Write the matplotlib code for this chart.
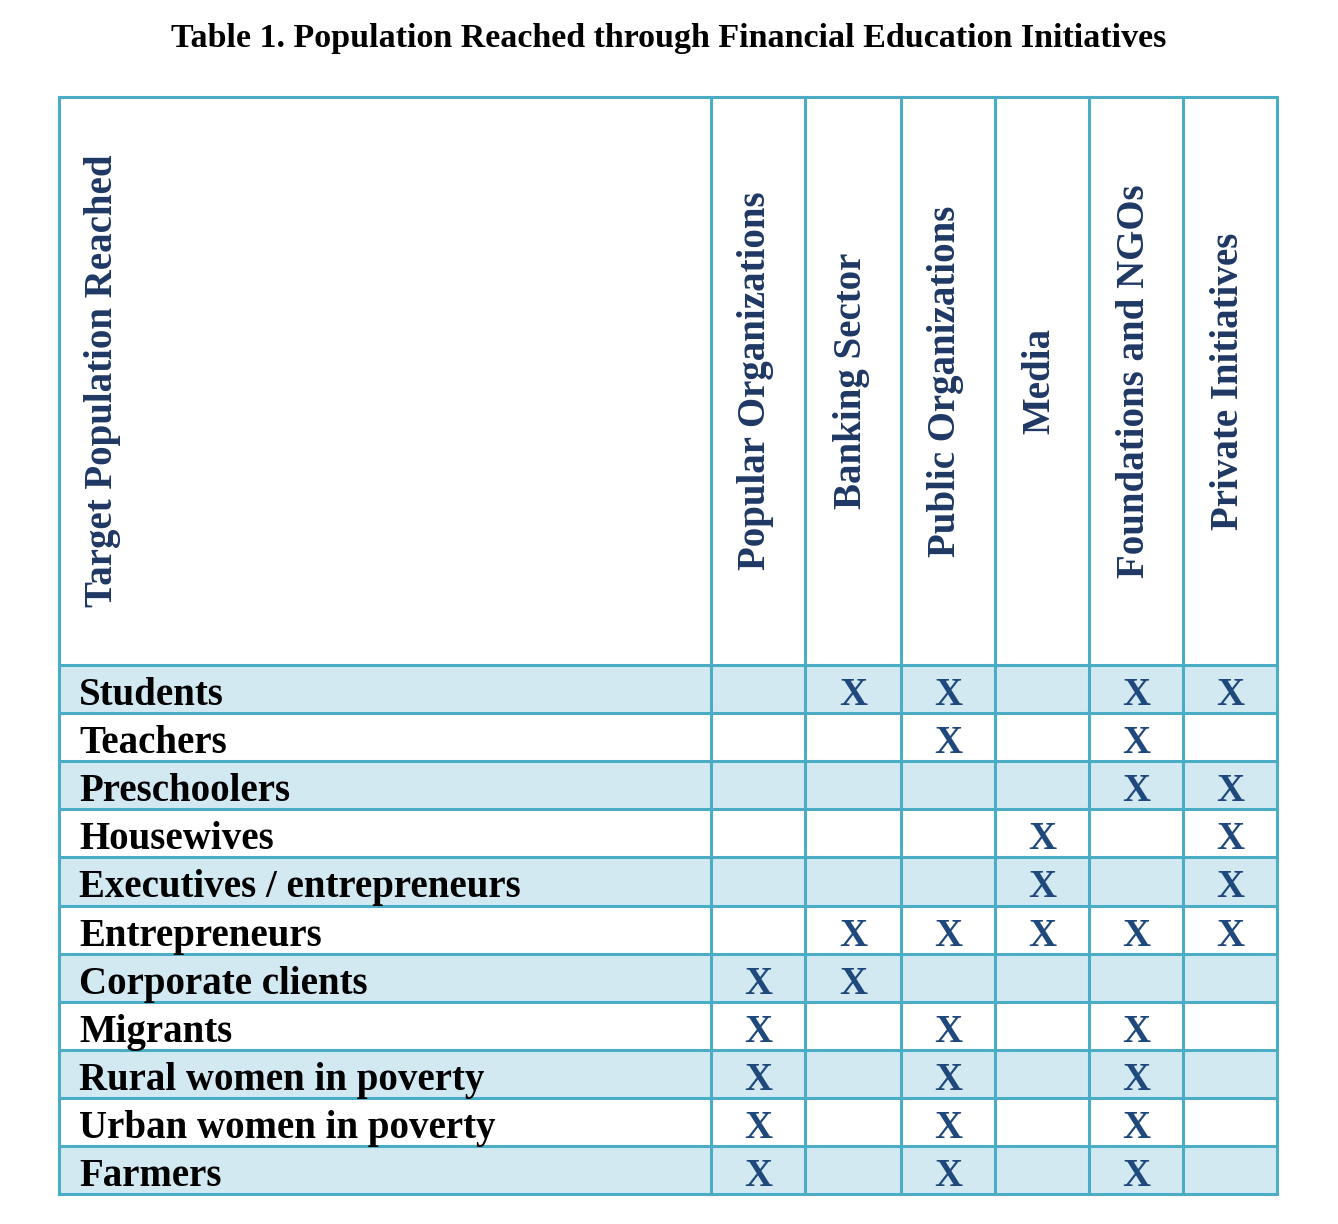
import matplotlib.pyplot as plt
from matplotlib.patches import Rectangle

title = "Table 1. Population Reached through Financial Education Initiatives"
row_header = "Target Population Reached"
columns = ["Popular Organizations", "Banking Sector", "Public Organizations",
           "Media", "Foundations and NGOs", "Private Initiatives"]
populations = ["Students", "Teachers", "Preschoolers", "Housewives",
               "Executives / entrepreneurs", "Entrepreneurs", "Corporate clients",
               "Migrants", "Rural women in poverty", "Urban women in poverty", "Farmers"]
# 1 = population reached by that kind of initiative
reached = [
    [0, 1, 1, 0, 1, 1],
    [0, 0, 1, 0, 1, 0],
    [0, 0, 0, 0, 1, 1],
    [0, 0, 0, 1, 0, 1],
    [0, 0, 0, 1, 0, 1],
    [0, 1, 1, 1, 1, 1],
    [1, 1, 0, 0, 0, 0],
    [1, 0, 1, 0, 1, 0],
    [1, 0, 1, 0, 1, 0],
    [1, 0, 1, 0, 1, 0],
    [1, 0, 1, 0, 1, 0],
]

W, H = 1338, 1224
fig = plt.figure(figsize=(W / 100, H / 100), dpi=100)
ax = fig.add_axes([0, 0, 1, 1])
ax.set_xlim(0, W)
ax.set_ylim(H, 0)
ax.axis("off")

font = "Liberation Serif"
line_c = "#4bacc6"
shade = "#d3e9f2"
navy = "#1f3864"
xblue = "#1f497d"

left, right = 59, 1277
top, head_bot = 97, 665
row_h = 48.1
col_edges = [711, 805, 901, 995, 1089, 1183, 1277]
bottom = head_bot + row_h * len(populations)

ax.text(W / 2, 38, title, ha="center", va="center", fontsize=24.5,
        fontweight="bold", family=font)

# shaded rows
for i in range(len(populations)):
    if i % 2 == 0:
        y0 = head_bot + i * row_h
        ax.add_patch(Rectangle((left, y0), right - left, row_h, color=shade, lw=0))

# grid
lw = 2.2
ax.plot([left, right, right, left, left], [top, top, bottom, bottom, top],
        color=line_c, lw=lw, solid_joinstyle="miter")
for x in col_edges[:-1]:
    ax.plot([x, x], [top, bottom], color=line_c, lw=lw)
for i in range(len(populations)):
    y = head_bot + i * row_h
    ax.plot([left, right], [y, y], color=line_c, lw=lw)

# headers
mid_head = (top + head_bot) / 2
ax.text(103, mid_head, row_header, rotation=90, ha="center", va="center",
        fontsize=28, fontweight="bold", family=font, color=navy)
for j, name in enumerate(columns):
    cx = (col_edges[j] + col_edges[j + 1]) / 2
    ax.text(cx - 2, mid_head, name, rotation=90, ha="center", va="center",
            fontsize=28, fontweight="bold", family=font, color=navy)

# rows
for i, name in enumerate(populations):
    cy = head_bot + (i + 0.5) * row_h
    ax.text(79, cy + 2, name, ha="left", va="center_baseline", fontsize=28,
            fontweight="bold", family=font, color="black")
    for j, v in enumerate(reached[i]):
        if v:
            cx = (col_edges[j] + col_edges[j + 1]) / 2
            ax.text(cx, cy + 2, "X", ha="center", va="center_baseline",
                    fontsize=28, fontweight="bold", family=font, color=xblue)

fig.savefig("out.png", dpi=100)
